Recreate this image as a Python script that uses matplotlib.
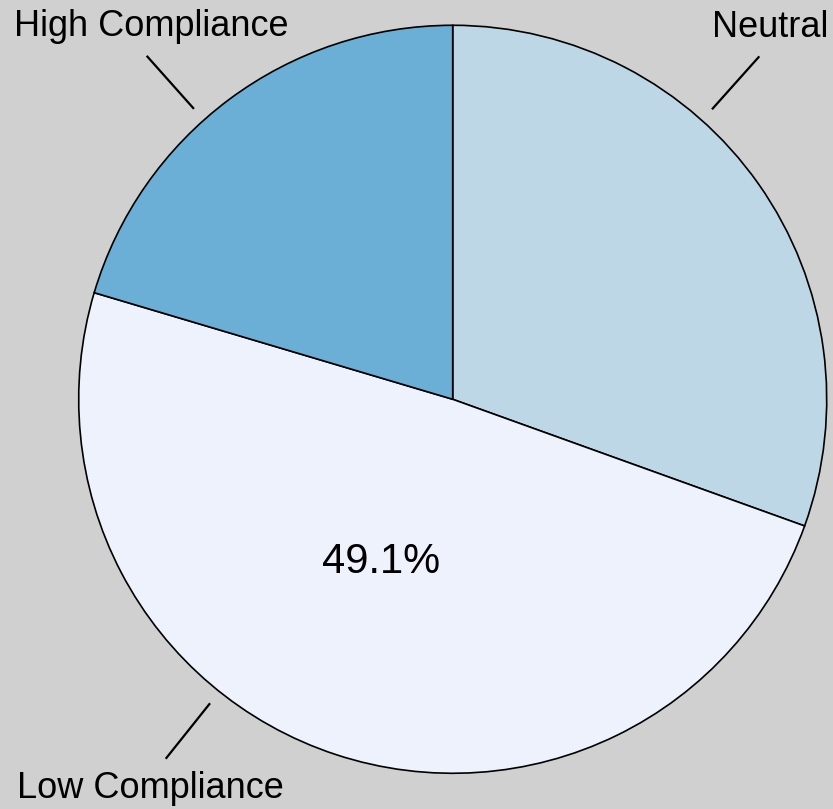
import numpy as np
import matplotlib as mpl
mpl.use('Agg')
import matplotlib.pyplot as plt

plt.rcParams['font.family'] = ['Liberation Sans', 'DejaVu Sans']

labels = ['Neutral', 'Low Compliance', 'High Compliance']
shares = [30.5, 49.1, 20.4]
colors = ['#bdd7e7', '#eef2fd', '#6baed6']

# layout of the outside labels (angle of leader line in degrees, text position)
leader_angles = [48.2, -128.6, 131.7]
text_pos = [(0.849, 0.969), (-0.809, -1.067), (-0.805, 0.971)]

fig = plt.figure(figsize=(8.33, 8.09), dpi=100)
fig.patch.set_facecolor('#d0d0d0')
ax = fig.add_axes([0, 0, 1, 1])
ax.set_facecolor('#d0d0d0')


def show_pct(p):
    # only the largest slice carries a percentage
    return '%.1f%%' % p if p > 40 else ''


wedges, texts, autotexts = ax.pie(shares, colors=colors, startangle=90,
                                  counterclock=False, autopct=show_pct,
                                  pctdistance=0.476,
                                  wedgeprops=dict(edgecolor='black', linewidth=1.2),
                                  textprops=dict(fontsize=30))

for t in autotexts:
    if t.get_text():
        a = np.deg2rad(-113.7)
        t.set_position((0.476 * np.cos(a), 0.476 * np.sin(a)))

for lab, ang, (tx, ty) in zip(labels, leader_angles, text_pos):
    a = np.deg2rad(ang)
    ax.plot([1.04 * np.cos(a), 1.23 * np.cos(a)],
            [1.04 * np.sin(a), 1.23 * np.sin(a)], color='black', lw=1.6,
            solid_capstyle='butt')
    ax.text(tx, ty, lab, ha='center', va='baseline', fontsize=26)

ax.set_xlim(-1.2104, 1.0168)
ax.set_ylim(-1.0955, 1.0676)
ax.set_aspect('auto')
ax.axis('off')

plt.savefig('out.png', dpi=100, facecolor=fig.get_facecolor())
